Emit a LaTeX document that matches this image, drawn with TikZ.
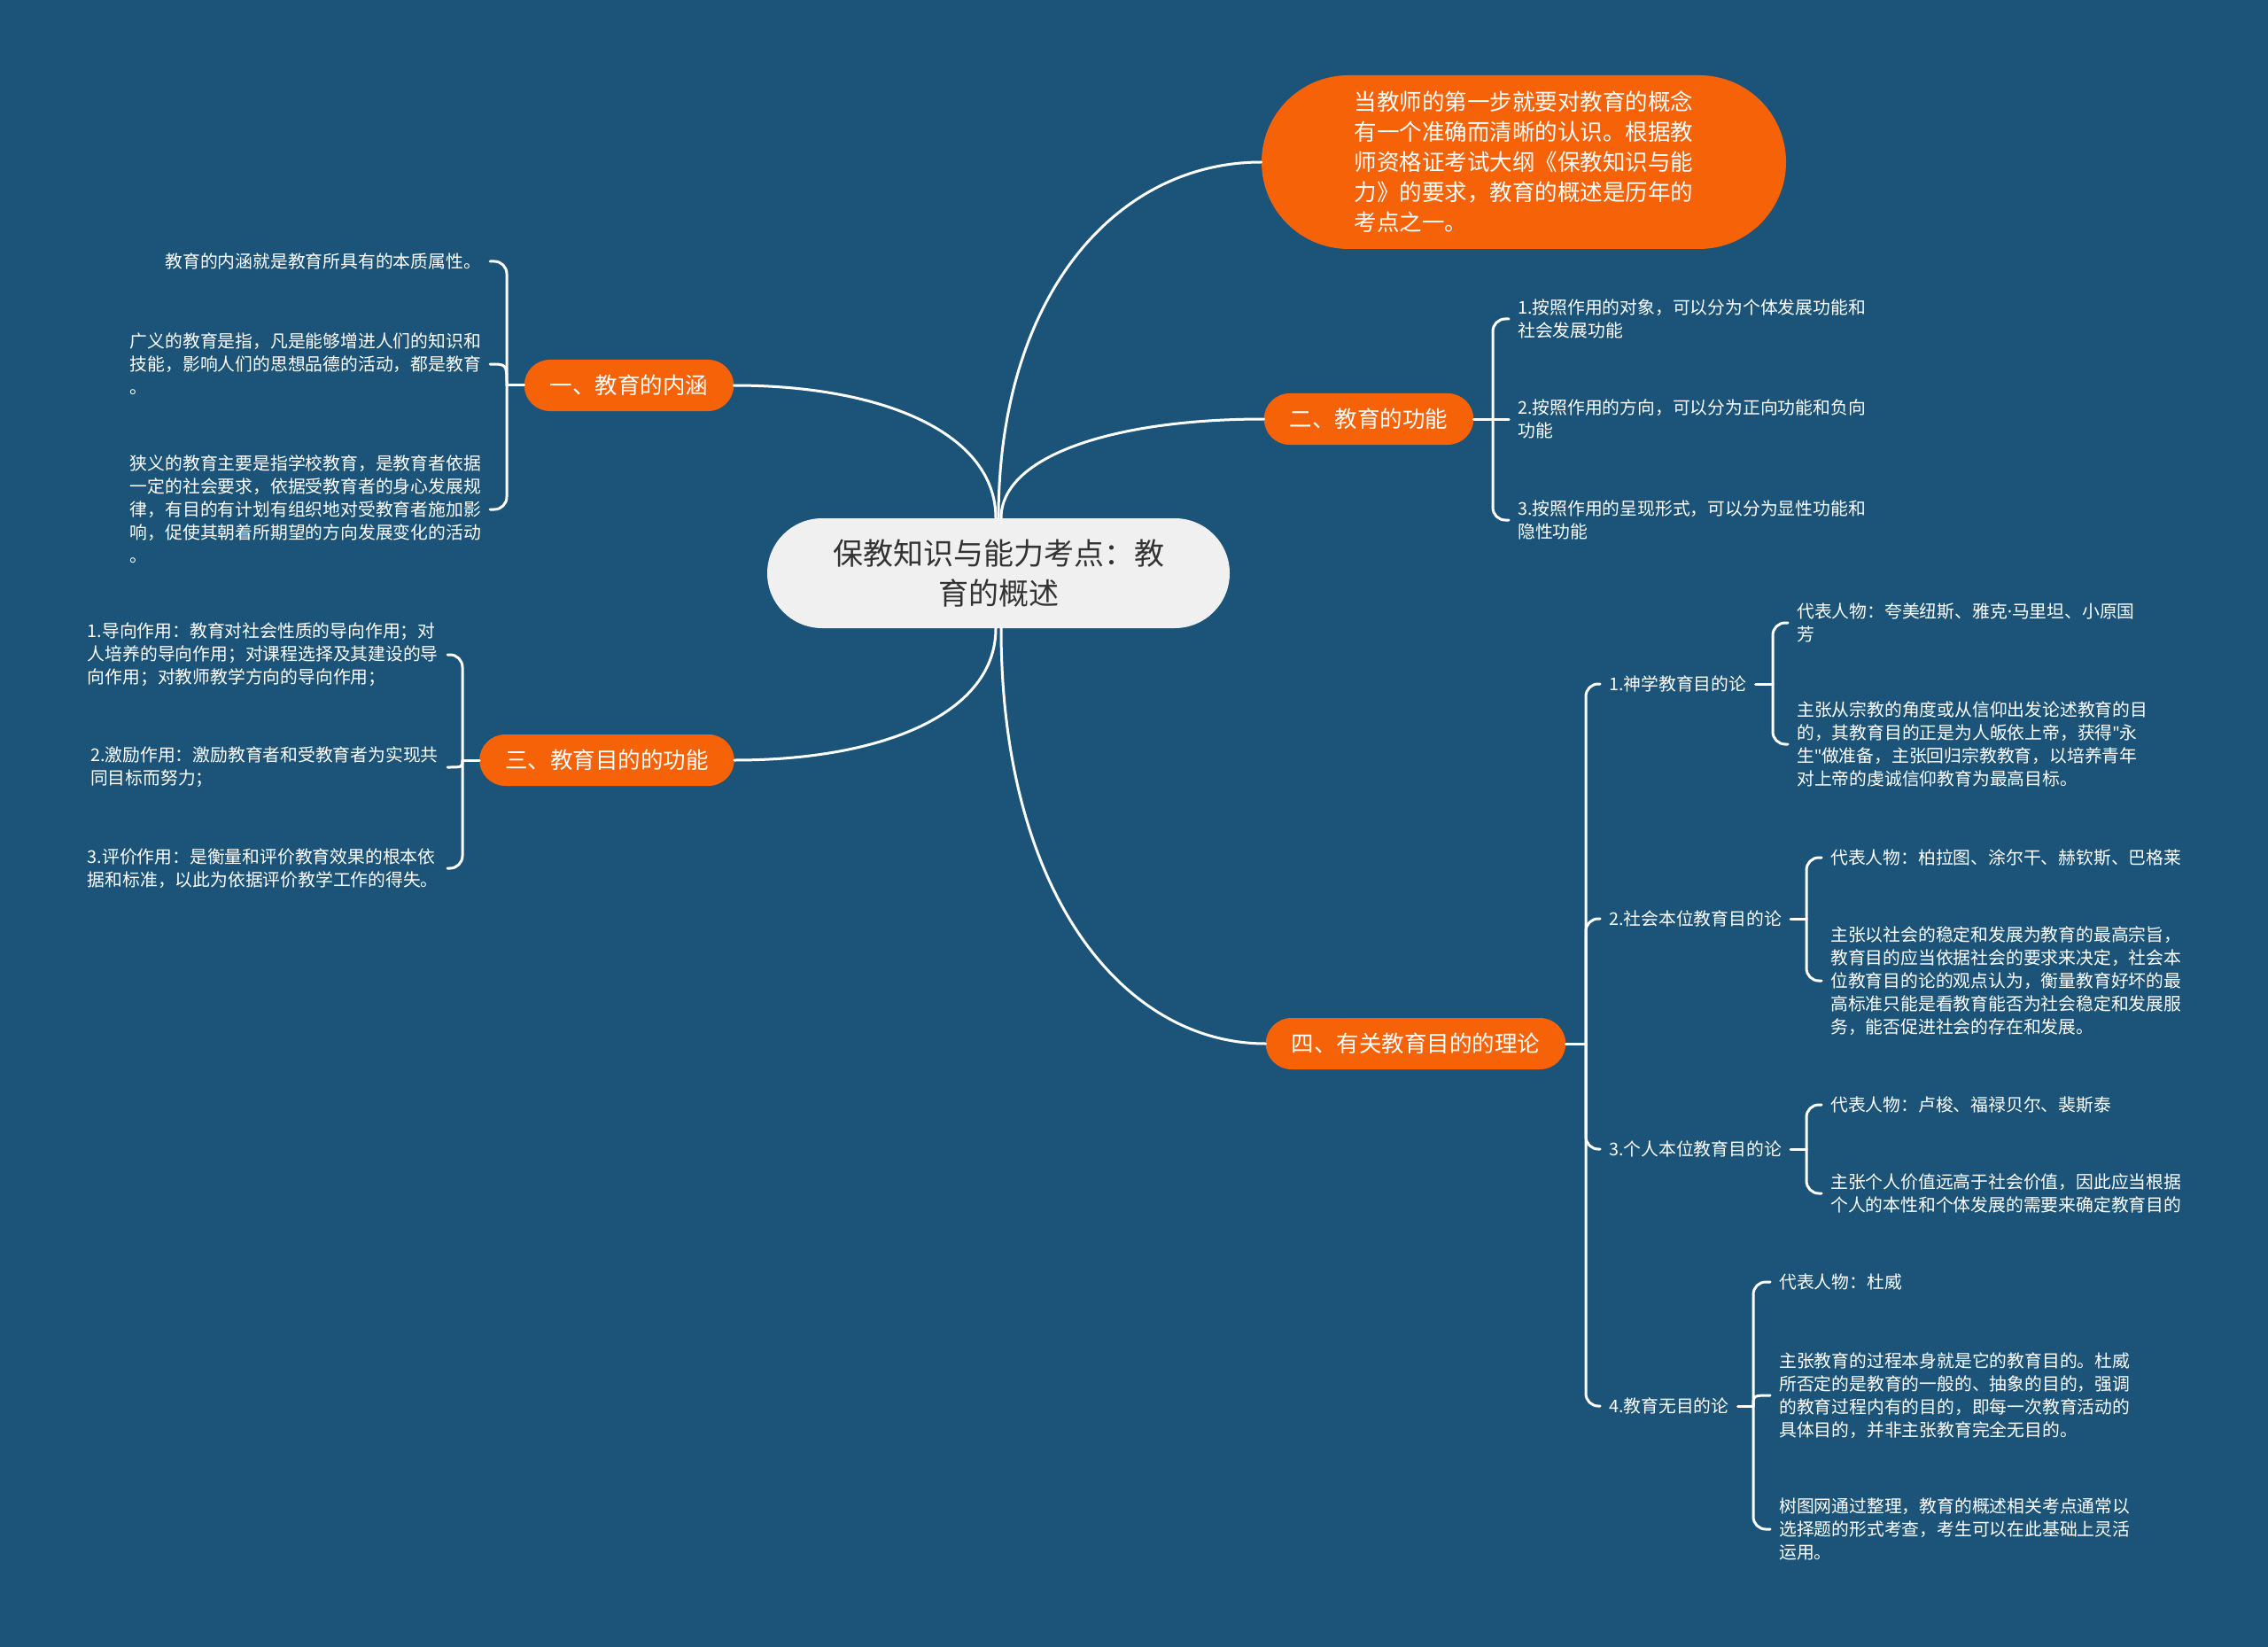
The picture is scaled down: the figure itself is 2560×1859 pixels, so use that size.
\documentclass[tikz,border=0pt]{standalone}
\usepackage{fontspec}
\setmainfont{Noto Sans CJK SC}[Ligatures=TeXOff]
\newfontfamily\latinf{Noto Sans}[Ligatures=TeXOff]
\definecolor{bg}{RGB}{27,84,120}
\definecolor{orng}{RGB}{246,98,8}
\definecolor{rootfill}{RGB}{240,240,240}
\definecolor{roottext}{RGB}{51,51,51}
\begin{document}
\begin{tikzpicture}[x=1pt,y=-1pt,
  conn/.style={draw=white, line width=3pt, line cap=round},
  leaf/.style={text=white, font=\fontsize{19.8}{26}\selectfont, align=left, inner xsep=10pt, inner ysep=4pt},
  branch/.style={fill=orng, text=white, font=\fontsize{25.5}{30}\selectfont, rounded corners=29pt, minimum height=58pt, inner xsep=29pt},
  rootbox/.style={fill=rootfill, text=roottext, font=\fontsize{34}{45}\selectfont, align=center, rounded corners=62pt, minimum width=522pt, minimum height=124pt},
  introbox/.style={fill=orng, text=white, font=\fontsize{25.5}{34}\selectfont, align=left, rounded corners=98pt, minimum width=592pt, minimum height=196pt},
  hook/.style={conn, rounded corners=14pt}]
\useasboundingbox (0,0) rectangle (2560,1859);
\fill[bg] (0,0) rectangle (2560,1859);

% root and first-level nodes
\node[rootbox] (root) at (1127,647) {保教知识与能力考点：教\\育的概述};
\node[introbox] (intro) at (1720,183) {当教师的第一步就要对教育的概念\\有一个准确而清晰的认识。根据教\\师资格证考试大纲《保教知识与能\\力》的要求，教育的概述是历年的\\考点之一。};
\node[branch] (b1) at (710,435) {一、教育的内涵};
\node[branch] (b2) at (1545,473) {二、教育的功能};
\node[branch] (b3) at (685,858) {三、教育目的的功能};
\node[branch] (b4) at (1598,1178) {四、有关教育目的的理论};

% group 1 leaves
\node[leaf, anchor=east] (l11) at (553,295) {教育的内涵就是教育所具有的本质属性。};
\node[leaf, anchor=east] (l12) at (553,411) {广义的教育是指，凡是能够增进人们的知识和\\技能，影响人们的思想品德的活动，都是教育\\。};
\node[leaf, anchor=east] (l13) at (553,575) {狭义的教育主要是指学校教育，是教育者依据\\一定的社会要求，依据受教育者的身心发展规\\律，有目的有计划有组织地对受教育者施加影\\响，促使其朝着所期望的方向发展变化的活动\\。};

% group 3 leaves
\node[leaf, anchor=east] (l31) at (505,739) {1.导向作用：教育对社会性质的导向作用；对\\人培养的导向作用；对课程选择及其建设的导\\向作用；对教师教学方向的导向作用；};
\node[leaf, anchor=east] (l32) at (505,866) {2.激励作用：激励教育者和受教育者为实现共\\同目标而努力；};
\node[leaf, anchor=east] (l33) at (505,980) {3.评价作用：是衡量和评价教育效果的根本依\\据和标准，以此为依据评价教学工作的得失。};

% group 2 leaves
\node[leaf, anchor=west] (l21) at (1703,360) {1.按照作用的对象，可以分为个体发展功能和\\社会发展功能};
\node[leaf, anchor=west] (l22) at (1703,473) {2.按照作用的方向，可以分为正向功能和负向\\功能};
\node[leaf, anchor=west] (l23) at (1703,587) {3.按照作用的呈现形式，可以分为显性功能和\\隐性功能};

% group 4 labels
\node[leaf, anchor=west] (m1) at (1806,772) {1.神学教育目的论};
\node[leaf, anchor=west] (m2) at (1806,1037) {2.社会本位教育目的论};
\node[leaf, anchor=west] (m3) at (1806,1297) {3.个人本位教育目的论};
\node[leaf, anchor=west] (m4) at (1806,1587) {4.教育无目的论};

% group 4 leaves
\node[leaf, anchor=west] (n11) at (2018,703) {代表人物：夸美纽斯、雅克{\latinf ·}马里坦、小原国\\芳};
\node[leaf, anchor=west] (n12) at (2018,840) {主张从宗教的角度或从信仰出发论述教育的目\\的，其教育目的正是为人皈依上帝，获得{\latinf "}永\\生{\latinf "}做准备，主张回归宗教教育，以培养青年\\对上帝的虔诚信仰教育为最高目标。};
\node[leaf, anchor=west] (n21) at (2056,968) {代表人物：柏拉图、涂尔干、赫钦斯、巴格莱};
\node[leaf, anchor=west] (n22) at (2056,1107) {主张以社会的稳定和发展为教育的最高宗旨，\\教育目的应当依据社会的要求来决定，社会本\\位教育目的论的观点认为，衡量教育好坏的最\\高标准只能是看教育能否为社会稳定和发展服\\务，能否促进社会的存在和发展。};
\node[leaf, anchor=west] (n31) at (2056,1247) {代表人物：卢梭、福禄贝尔、裴斯泰};
\node[leaf, anchor=west] (n32) at (2056,1347) {主张个人价值远高于社会价值，因此应当根据\\个人的本性和个体发展的需要来确定教育目的};
\node[leaf, anchor=west] (n41) at (1998,1447) {代表人物：杜威};
\node[leaf, anchor=west] (n42) at (1998,1575) {主张教育的过程本身就是它的教育目的。杜威\\所否定的是教育的一般的、抽象的目的，强调\\的教育过程内有的目的，即每一次教育活动的\\具体目的，并非主张教育完全无目的。};
\node[leaf, anchor=west] (n43) at (1998,1726) {树图网通过整理，教育的概述相关考点通常以\\选择题的形式考查，考生可以在此基础上灵活\\运用。};

% spine coordinates
\coordinate (s1) at (572,435);
\coordinate (s3) at (522,858);
\coordinate (s2) at (1685,473);
\coordinate (s4) at (1790,1178);
\coordinate (t1) at (2001,772);
\coordinate (t2) at (2039,1037);
\coordinate (t3) at (2039,1297);
\coordinate (t4) at (1979,1587);

% root connectors
\draw[conn] ([xshift=-3pt]root.north) .. controls +(0,-95) and +(170,0) .. (b1.east);
\draw[conn] ([xshift=3pt]root.north) .. controls +(0,-70) and +(-170,0) .. (b2.west);
\draw[conn] (root.north) .. controls +(0,-250) and +(-165,0) .. (intro.west);
\draw[conn] ([xshift=-3pt]root.south) .. controls +(0,95) and +(170,0) .. (b3.east);
\draw[conn] ([xshift=3pt]root.south) .. controls +(0,300) and +(-160,0) .. (b4.west);

% group 1 brace
\draw[conn] (b1.west) -- (s1);
\draw[hook] (s1) -- (s1 |- l11.east) -- (l11.east);
\draw[conn] (s1) .. controls (s1 |- l12.east) .. (l12.east);
\draw[hook] (s1) -- (s1 |- l13.east) -- (l13.east);

% group 3 brace
\draw[conn] (b3.west) -- (s3);
\draw[hook] (s3) -- (s3 |- l31.east) -- (l31.east);
\draw[conn] (s3) .. controls (s3 |- l32.east) .. (l32.east);
\draw[hook] (s3) -- (s3 |- l33.east) -- (l33.east);

% group 2 brace
\draw[conn] (b2.east) -- (s2);
\draw[hook] (s2) -- (s2 |- l21.west) -- (l21.west);
\draw[conn] (s2) -- (l22.west);
\draw[hook] (s2) -- (s2 |- l23.west) -- (l23.west);

% group 4 main brace
\draw[conn] (b4.east) -- (s4);
\draw[hook] (s4) -- (s4 |- m1.west) -- (m1.west);
\draw[hook] (s4) -- (s4 |- m2.west) -- (m2.west);
\draw[hook] (s4) -- (s4 |- m3.west) -- (m3.west);
\draw[hook] (s4) -- (s4 |- m4.west) -- (m4.west);

% group 4 sub braces
\draw[conn] (m1.east) -- (t1);
\draw[hook] (t1) -- (t1 |- n11.west) -- (n11.west);
\draw[hook] (t1) -- (t1 |- n12.west) -- (n12.west);
\draw[conn] (m2.east) -- (t2);
\draw[hook] (t2) -- (t2 |- n21.west) -- (n21.west);
\draw[hook] (t2) -- (t2 |- n22.west) -- (n22.west);
\draw[conn] (m3.east) -- (t3);
\draw[hook] (t3) -- (t3 |- n31.west) -- (n31.west);
\draw[hook] (t3) -- (t3 |- n32.west) -- (n32.west);
\draw[conn] (m4.east) -- (t4);
\draw[hook] (t4) -- (t4 |- n41.west) -- (n41.west);
\draw[conn] (t4) .. controls (t4 |- n42.west) .. (n42.west);
\draw[hook] (t4) -- (t4 |- n43.west) -- (n43.west);
\end{tikzpicture}
\end{document}
